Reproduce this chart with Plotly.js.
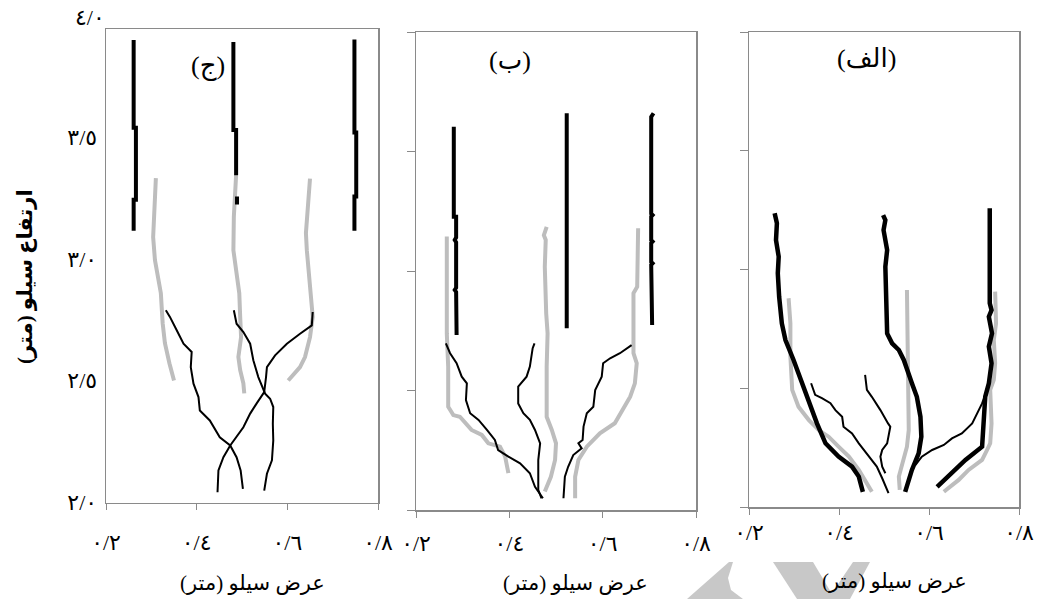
<!DOCTYPE html>
<html>
<head>
<meta charset="utf-8">
<script src="https://cdn.plot.ly/plotly-3.0.1.min.js"></script>
<style>html,body{margin:0;padding:0;background:#fff}#chart{width:1037px;height:599px}</style>
</head>
<body>
<div id="chart"></div>
<script>
// ---------- tick labels / texts ----------
const xTickVals = [0.2, 0.4, 0.6, 0.8];
const xTickText = ['٠/٢', '٠/٤', '٠/٦', '٠/٨'];
const yTickVals = [2.0, 2.5, 3.0, 3.5];
const yTickText = ['٢/٠', '٢/٥', '٣/٠', '٣/٥'];
const yTopLabel = '٤/٠';
const xTitle = 'عرض سيلو (متر)';
const yTitle = 'ارتفاع سيلو (متر)';
const panelLabels = ['(ج)', '(ب)', '(الف)'];

// ---------- panel ج (left) ----------
const jThick1X = [0.261,0.261,0.266,0.266,0.261,0.261];
const jThick1Y = [3.899,3.539,3.539,3.243,3.243,3.116];
const jThick2X = [0.481,0.481,0.487,0.487];
const jThick2Y = [3.891,3.529,3.529,3.344];
const jThick2bX = [0.489,0.489];
const jThick2bY = [3.256,3.223];
const jThick3X = [0.748,0.748,0.752,0.752,0.748,0.748];
const jThick3Y = [3.901,3.519,3.519,3.256,3.256,3.116];
const jGrey1X = [0.310,0.307,0.304,0.308,0.315,0.321,0.325,0.330,0.340,0.350];
const jGrey1Y = [3.332,3.200,3.089,2.995,2.925,2.859,2.736,2.654,2.571,2.501];
const jGrey2X = [0.487,0.482,0.481,0.487,0.494,0.496,0.498,0.492,0.496,0.503,0.505];
const jGrey2Y = [3.344,3.173,3.036,2.954,2.859,2.762,2.679,2.597,2.543,2.489,2.448];
const jGrey3X = [0.650,0.646,0.641,0.643,0.649,0.654,0.656,0.650,0.639,0.628,0.602];
const jGrey3Y = [3.330,3.241,3.106,3.036,2.926,2.830,2.762,2.679,2.597,2.556,2.501];
const jThin1X = [0.332,0.341,0.356,0.371,0.389,0.387,0.393,0.404,0.407,0.429,0.451,0.474,0.488,0.497,0.502];
const jThin1Y = [2.789,2.762,2.707,2.652,2.618,2.556,2.488,2.433,2.378,2.337,2.268,2.234,2.186,2.132,2.056];
const jThin2X = [0.482,0.488,0.503,0.518,0.525,0.536,0.551,0.562,0.569,0.568,0.569,0.566,0.555,0.549];
const jThin2Y = [2.789,2.734,2.700,2.652,2.584,2.515,2.447,2.426,2.392,2.323,2.255,2.173,2.118,2.049];
const jThin3X = [0.656,0.654,0.628,0.599,0.573,0.555,0.553,0.549,0.532,0.518,0.503,0.488,0.474,0.459,0.448,0.446];
const jThin3Y = [2.782,2.727,2.693,2.652,2.604,2.556,2.515,2.453,2.406,2.365,2.309,2.268,2.234,2.186,2.132,2.042];

// ---------- panel ب (middle) ----------
const bThick1X = [0.281,0.281,0.286,0.286,0.283,0.286,0.286,0.283,0.286,0.287];
const bThick1Y = [3.604,3.227,3.227,3.140,3.130,3.120,2.930,2.921,2.912,2.732];
const bThick2X = [0.523,0.523];
const bThick2Y = [3.660,2.760];
const bThick3X = [0.709,0.704,0.704,0.707,0.704,0.704,0.707,0.704,0.704,0.707,0.704,0.704,0.706];
const bThick3Y = [3.660,3.645,3.240,3.234,3.228,3.129,3.123,3.117,3.038,3.032,3.026,2.780,2.774];
const bGrey1X = [0.266,0.266,0.269,0.269,0.280,0.294,0.319,0.341,0.355,0.380,0.391,0.398];
const bGrey1Y = [3.144,2.739,2.600,2.432,2.397,2.390,2.335,2.314,2.279,2.265,2.223,2.154];
const bGrey2X = [0.480,0.474,0.478,0.476,0.479,0.482,0.480,0.479,0.480,0.491,0.500,0.498,0.489,0.476];
const bGrey2Y = [3.185,3.150,3.130,3.018,2.823,2.739,2.600,2.460,2.390,2.335,2.279,2.209,2.139,2.077];
const bGrey3X = [0.676,0.674,0.666,0.666,0.673,0.669,0.659,0.637,0.626,0.594,0.566,0.548,0.541,0.541];
const bGrey3Y = [3.179,2.934,2.907,2.656,2.614,2.530,2.474,2.405,2.363,2.321,2.265,2.209,2.139,2.049];
const bThin1X = [0.264,0.273,0.287,0.298,0.309,0.307,0.316,0.334,0.352,0.369,0.376,0.398,0.423,0.444,0.455,0.472];
const bThin1Y = [2.697,2.656,2.614,2.558,2.530,2.460,2.405,2.377,2.335,2.293,2.251,2.223,2.195,2.154,2.097,2.049];
const bThin2X = [0.454,0.450,0.444,0.437,0.419,0.419,0.430,0.444,0.455,0.466,0.462,0.462,0.469];
const bThin2Y = [2.697,2.677,2.600,2.558,2.516,2.446,2.405,2.377,2.335,2.279,2.209,2.084,2.049];
const bThin3X = [0.662,0.637,0.616,0.601,0.598,0.584,0.580,0.566,0.559,0.557,0.548,0.555,0.537,0.526,0.519,0.516];
const bThin3Y = [2.690,2.656,2.635,2.614,2.558,2.502,2.432,2.405,2.349,2.293,2.279,2.258,2.230,2.181,2.139,2.049];

// ---------- panel الف (right) ----------
const aThick1X = [0.257,0.262,0.260,0.266,0.264,0.267,0.273,0.281,0.299,0.318,0.336,0.351,0.370,0.399,0.429,0.444,0.453];
const aThick1Y = [3.237,3.195,3.124,3.054,2.984,2.885,2.773,2.703,2.619,2.521,2.437,2.352,2.268,2.212,2.170,2.128,2.064];
const aGrey1X = [0.288,0.292,0.292,0.296,0.310,0.333,0.355,0.377,0.399,0.422,0.444,0.462,0.473];
const aGrey1Y = [2.879,2.773,2.633,2.493,2.422,2.366,2.324,2.296,2.254,2.212,2.156,2.100,2.064];
const aThin1X = [0.338,0.347,0.362,0.381,0.392,0.407,0.410,0.429,0.444,0.462,0.484,0.496,0.510];
const aThin1Y = [2.521,2.472,2.458,2.437,2.408,2.380,2.338,2.310,2.268,2.226,2.170,2.121,2.058];
const aThin2X = [0.458,0.462,0.473,0.492,0.509,0.514,0.507,0.496,0.492,0.496,0.503];
const aThin2Y = [2.556,2.493,2.464,2.408,2.352,2.338,2.268,2.240,2.212,2.170,2.142];
const aThick2X = [0.498,0.503,0.499,0.507,0.503,0.505,0.507,0.518,0.533,0.544,0.551,0.562,0.573,0.581,0.583,0.577,0.562,0.555,0.547];
const aThick2Y = [3.229,3.208,3.166,3.082,3.012,2.872,2.731,2.689,2.661,2.619,2.577,2.521,2.464,2.380,2.296,2.226,2.156,2.114,2.064];
const aGrey2X = [0.551,0.553,0.555,0.555,0.551,0.540,0.533,0.535];
const aGrey2Y = [2.914,2.633,2.493,2.324,2.254,2.184,2.128,2.072];
const aThin3X = [0.570,0.584,0.607,0.633,0.651,0.673,0.696,0.710,0.718,0.729,0.736];
const aThin3Y = [2.177,2.212,2.240,2.261,2.289,2.310,2.352,2.408,2.436,2.493,2.549];
const aThick3X = [0.735,0.735,0.739,0.733,0.740,0.733,0.739,0.733,0.725,0.722,0.718,0.681,0.651,0.618];
const aThick3Y = [3.258,2.858,2.829,2.801,2.731,2.675,2.605,2.521,2.465,2.352,2.254,2.198,2.142,2.085];
const aGrey3X = [0.747,0.749,0.744,0.747,0.744,0.736,0.739,0.736,0.729,0.718,0.688,0.666,0.633];
const aGrey3Y = [2.907,2.773,2.703,2.605,2.535,2.493,2.352,2.268,2.240,2.198,2.156,2.114,2.064];

// ---------- build ----------
const W = 1037, H = 599;
const GREY = '#bdbdbd', BLACK = '#000000';
const FONT = 'Liberation Serif, DejaVu Sans, serif';
const traces = [];
function line(xs, ys, ax, color, width) {
  traces.push({type: 'scatter', mode: 'lines', x: xs, y: ys,
    xaxis: 'x' + ax, yaxis: 'y' + ax, hoverinfo: 'skip',
    line: {color: color, width: width, shape: 'linear'}});
}
[[jGrey1X,jGrey1Y],[jGrey2X,jGrey2Y],[jGrey3X,jGrey3Y]].forEach(p => line(p[0], p[1], '', GREY, 4));
[[jThick1X,jThick1Y],[jThick2X,jThick2Y],[jThick2bX,jThick2bY],[jThick3X,jThick3Y]].forEach(p => line(p[0], p[1], '', BLACK, 4));
[[jThin1X,jThin1Y],[jThin2X,jThin2Y],[jThin3X,jThin3Y]].forEach(p => line(p[0], p[1], '', BLACK, 2));

[[bGrey1X,bGrey1Y],[bGrey2X,bGrey2Y],[bGrey3X,bGrey3Y]].forEach(p => line(p[0], p[1], '2', GREY, 4));
[[bThick1X,bThick1Y],[bThick2X,bThick2Y],[bThick3X,bThick3Y]].forEach(p => line(p[0], p[1], '2', BLACK, 4));
[[bThin1X,bThin1Y],[bThin2X,bThin2Y],[bThin3X,bThin3Y]].forEach(p => line(p[0], p[1], '2', BLACK, 2));

[[aGrey1X,aGrey1Y],[aGrey2X,aGrey2Y],[aGrey3X,aGrey3Y]].forEach(p => line(p[0], p[1], '3', GREY, 4));
[[aThick1X,aThick1Y],[aThick2X,aThick2Y],[aThick3X,aThick3Y]].forEach(p => line(p[0], p[1], '3', BLACK, 4.5));
[[aThin1X,aThin1Y],[aThin2X,aThin2Y],[aThin3X,aThin3Y]].forEach(p => line(p[0], p[1], '3', BLACK, 2));

const px = v => v / W, py = v => 1 - v / H;
const frame = {showline: true, mirror: true, linecolor: '#8a8a8a', linewidth: 1.5,
  showgrid: false, zeroline: false, fixedrange: true};
function xax(l, r, standoff) {
  return Object.assign({}, frame, {domain: [px(l), px(r)], range: [0.2, 0.8],
    tickmode: 'array', tickvals: xTickVals, ticktext: xTickText,
    ticks: 'outside', ticklen: 6, tickcolor: '#8a8a8a', tickwidth: 1,
    ticklabelstandoff: standoff, tickfont: {family: FONT, size: 22, color: '#000'}});
}
function yax(t, b, top, labels) {
  return Object.assign({}, frame, {domain: [py(b), py(t)], range: [2.0, top],
    tickmode: 'array', tickvals: labels ? yTickVals : [2, 2.5, 3, 3.5, 4],
    ticktext: labels ? yTickText : undefined,
    ticks: labels ? '' : 'outside', ticklen: 8, tickcolor: '#8a8a8a', tickwidth: 1,
    showticklabels: !!labels, ticklabelstandoff: 3,
    tickfont: {family: FONT, size: 22, color: '#000'}});
}

const layout = {
  width: W, height: H, margin: {l: 0, r: 0, t: 0, b: 0},
  paper_bgcolor: '#fff', plot_bgcolor: '#fff', showlegend: false,
  font: {family: FONT, color: '#000'},
  xaxis: Object.assign(xax(106, 378, 14), {anchor: 'y'}),
  yaxis: Object.assign(yax(29, 502.5, 3.944, true), {anchor: 'x'}),
  xaxis2: Object.assign(xax(416, 696, 7), {anchor: 'y2'}),
  yaxis2: Object.assign(yax(32, 510, 4.0, false), {anchor: 'x2'}),
  xaxis3: Object.assign(xax(749, 1019, -1), {anchor: 'y3'}),
  yaxis3: Object.assign(yax(32, 507, 4.0, false), {anchor: 'x3'}),
  annotations: [
    {xref: 'paper', yref: 'paper', x: px(107), y: py(17), xanchor: 'right', yanchor: 'middle',
     text: yTopLabel, showarrow: false, font: {family: FONT, size: 22}},
    {xref: 'paper', yref: 'paper', x: px(25), y: py(277), xanchor: 'center', yanchor: 'middle',
     text: '<b>' + yTitle + '</b>', textangle: -90, showarrow: false, font: {family: FONT, size: 21}},
    {xref: 'paper', yref: 'paper', x: px(252), y: py(583), xanchor: 'center', yanchor: 'middle',
     text: xTitle, showarrow: false, font: {family: FONT, size: 21}},
    {xref: 'paper', yref: 'paper', x: px(575), y: py(583), xanchor: 'center', yanchor: 'middle',
     text: xTitle, showarrow: false, font: {family: FONT, size: 21}},
    {xref: 'paper', yref: 'paper', x: px(894), y: py(581), xanchor: 'center', yanchor: 'middle',
     text: xTitle, showarrow: false, font: {family: FONT, size: 21}},
    {xref: 'paper', yref: 'paper', x: px(208), y: py(66), xanchor: 'center', yanchor: 'middle',
     text: panelLabels[0], showarrow: false, font: {family: FONT, size: 26}},
    {xref: 'paper', yref: 'paper', x: px(510), y: py(60), xanchor: 'center', yanchor: 'middle',
     text: panelLabels[1], showarrow: false, font: {family: FONT, size: 26}},
    {xref: 'paper', yref: 'paper', x: px(866), y: py(58), xanchor: 'center', yanchor: 'middle',
     text: panelLabels[2], showarrow: false, font: {family: FONT, size: 26}}
  ],
  shapes: []
};
// faint watermark strokes at the bottom of the figure
function poly(pts) {
  return 'M' + pts.map(p => px(p[0]) + ',' + py(p[1])).join(' L') + ' Z';
}
[
  [[729,562],[733,562],[728,578],[731,590],[743,599],[687,599]],
  [[773,562],[813,562],[835,599],[797,599]],
  [[853,562],[870,562],[850,599],[828,599]]
].forEach(p => layout.shapes.push({type: 'path', xref: 'paper', yref: 'paper', layer: 'below',
  path: poly(p), fillcolor: '#c8c8c8', line: {width: 0}}));

Plotly.newPlot('chart', traces, layout, {displayModeBar: false, staticPlot: true});
</script>
</body>
</html>
